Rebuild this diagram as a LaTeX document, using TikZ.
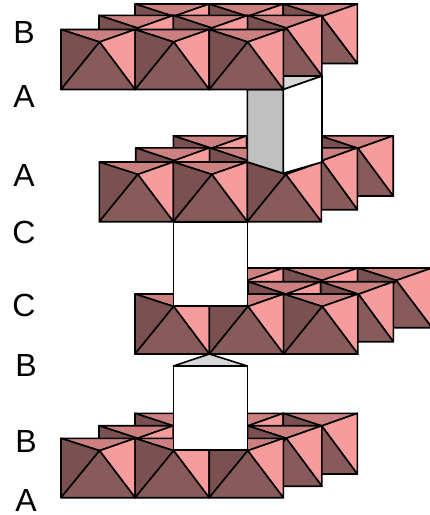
\documentclass[tikz,border=0pt]{standalone}
\usepackage{fontspec}
\setmainfont{Liberation Sans}
\definecolor{octleft}{HTML}{7A5050}
\definecolor{octbottom}{HTML}{885A5A}
\definecolor{octright}{HTML}{F79C9C}
\definecolor{octtop}{HTML}{CC8080}
\definecolor{greyface}{HTML}{C0C0C0}
\definecolor{paleface}{HTML}{D8D8D8}
\tikzset{
  edge/.style={draw=black,line width=1.6pt,line join=round},
  label/.style={font=\fontsize{32}{34}\selectfont,inner sep=0pt,text=black}
}
% octahedron: upper-left corner (#1,#2), width #3, height #4
\newcommand{\octa}[4]{%
  \pgfmathsetmacro{\ax}{#1+0.52*#3}
  \pgfmathsetmacro{\ay}{#2+0.208*#4}
  \pgfmathsetmacro{\rx}{#1+#3}
  \pgfmathsetmacro{\by}{#2+#4}
  \path[edge,fill=octtop] (#1,-#2) -- (\rx,-#2) -- (\ax,-\ay) -- cycle;
  \path[edge,fill=octleft] (#1,-#2) -- (\ax,-\ay) -- (#1,-\by) -- cycle;
  \path[edge,fill=octright] (\rx,-#2) -- (\ax,-\ay) -- (\rx,-\by) -- cycle;
  \path[edge,fill=octbottom] (#1,-\by) -- (\ax,-\ay) -- (\rx,-\by) -- cycle;
}
% one row of three octahedra
\newcommand{\octrow}[4]{%
  \foreach \c in {0,1,2}{
    \pgfmathsetmacro{\ox}{#1+#3*\c}
    \octa{\ox}{#2}{#3}{#4}
  }
}
\begin{document}
\begin{tikzpicture}[x=1pt,y=1pt]
\useasboundingbox (0,0) rectangle (430,-515);
\begin{scope}
\clip (0,0) rectangle (430,-515);
% bottom layer and the prism standing on it
\octrow{135}{413.3}{74.1}{60.7}
\octrow{99}{425.7}{74.3}{60.5}
\octrow{61}{438.3}{74.1}{59.4}
\path[edge,fill=paleface] (209.3,-354) -- (173.3,-366) -- (247.3,-366) -- cycle;
\path[edge,fill=white] (173.3,-366) rectangle (247.3,-450);
% third layer
\octrow{209}{268}{74.3}{59.7}
\octrow{175.5}{281.7}{72.6}{60}
\octrow{135}{294}{74.3}{60}
\path[edge,fill=white] (173.3,-221.7) rectangle (247.3,-306);
% second layer
\octrow{173.3}{135.8}{73.3}{60.2}
\octrow{135.7}{147.8}{73.9}{61.9}
\octrow{99.3}{162}{74}{59.7}
\path[edge,fill=paleface] (283.3,-76) -- (322,-76) -- (283.3,-89.5) -- cycle;
\path[edge,fill=greyface] (247.3,-89.5) -- (283.3,-89.5) -- (283.3,-173.3) -- (247.3,-162) -- cycle;
\path[edge,fill=white] (283.3,-89.5) -- (322,-76) -- (322,-162) -- (283.3,-173.3) -- cycle;
% top layer
\octrow{135}{4}{74.1}{59.5}
\octrow{99}{15.4}{74.3}{60.6}
\octrow{61}{29.5}{74.1}{60}
\end{scope}
\node[label] (b1) at (24,-32) {B};
\node[label] (a1) at (24,-96) {A};
\node[label] (a2) at (24,-175) {A};
\node[label] (c1) at (24,-232) {C};
\node[label] (c2) at (24,-305) {C};
\node[label] (b2) at (26,-365) {B};
\node[label] (b3) at (26,-441) {B};
\node[label] (a3) at (26,-500) {A};
\end{tikzpicture}
\end{document}
